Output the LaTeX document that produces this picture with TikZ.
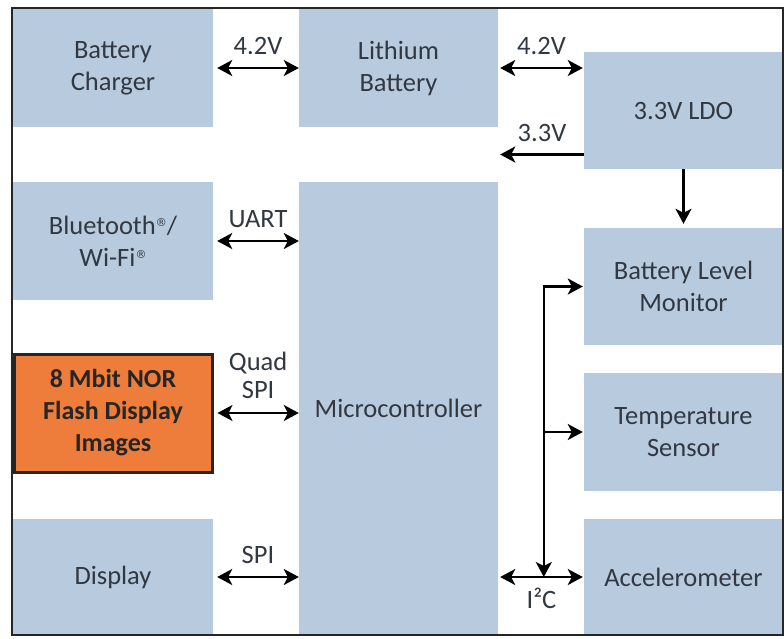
\documentclass[tikz,border=0pt]{standalone}
\usepackage{fontspec}
\setmainfont{Carlito}
\newfontfamily\regfont{DejaVu Sans}
\usetikzlibrary{arrows.meta,calc}
\definecolor{boxblue}{RGB}{184,203,222}
\definecolor{txtgray}{RGB}{50,56,66}
\definecolor{norange}{RGB}{238,124,58}
\newcommand{\regmark}{{\regfont\fontsize{11}{11}\selectfont\raisebox{8pt}{®}}}
\begin{document}
\begin{tikzpicture}[x=1pt,y=-1pt,
  blk/.style={fill=boxblue,draw=none,inner sep=0pt,minimum width=200pt,minimum height=118pt,
    align=center,text=txtgray,font=\fontsize{26.5}{32}\selectfont},
  lbl/.style={inner sep=0pt,text=txtgray,font=\fontsize{26.5}{28}\selectfont,align=center},
  tip/.tip={Stealth[length=15pt,width=16pt,inset=4pt]},
  conn/.style={line width=2.2pt,black,-tip},
  dconn/.style={line width=2.2pt,black,tip-tip}]
\useasboundingbox (0,0) rectangle (784,638);
\fill[white] (0,0) rectangle (784,638);
% blocks
\node[blk] (chg) at (113,68) {Battery\\Charger};
\node[blk,minimum width=199pt] (bat) at (398.5,68) {Lithium\\Battery};
\node[blk,minimum width=199pt,minimum height=117pt] (ldo) at (683.5,110.5) {3.3V LDO};
\node[blk] (bt) at (113,241) {Bluetooth\regmark/\\Wi-Fi\regmark};
\node[blk,minimum width=199pt,minimum height=453pt] (mcu) at (398.5,408.5) {Microcontroller};
\node[blk,minimum width=199pt,minimum height=117pt] (blm) at (683.5,286.5) {Battery Level\\Monitor};
\node[blk,minimum width=199pt] (ts) at (683.5,432) {Temperature\\Sensor};
\node[blk,minimum width=199pt,minimum height=116pt] (acc) at (683.5,577) {Accelerometer};
\node[blk,minimum width=198pt,minimum height=118pt,fill=norange,draw=black!85,line width=3pt,text=black!85,
  font=\bfseries\fontsize{26}{32}\selectfont] (nor) at (113,413) {8 Mbit NOR\\Flash Display\\Images};
\node[blk,minimum height=116pt] (disp) at (113,577) {Display};
% connectors
\draw[dconn] ([xshift=4pt]chg.east) -- (bat.west) node[lbl,midway,above=12pt] (l1) {4.2V};
\draw[dconn] ([xshift=2pt]bat.east) -- ([xshift=-1pt]bat.east -| ldo.west) node[lbl,midway,above=12pt] (l2) {4.2V};
\coordinate (ldoout) at ([yshift=-44pt]ldo.west);
\draw[conn] (ldoout) -- ([xshift=2pt]ldoout -| bat.east) node[lbl,midway,above=12pt] (l3) {3.3V};
\draw[conn] (ldo.south) -- ([yshift=4pt]blm.north);
\draw[dconn] ([xshift=4pt]bt.east) -- (bt.east -| mcu.west) node[lbl,midway,above=12pt] (l4) {UART};
\draw[dconn] ([xshift=4pt]nor.east) -- (nor.east -| mcu.west) node[lbl,midway,above=13pt] (l5) {Quad\\SPI};
\draw[dconn] ([xshift=4pt]disp.east) -- (disp.east -| mcu.west) node[lbl,midway,above=12pt] (l6) {SPI};
% I2C bus
\coordinate (bustop) at ([xshift=-40pt]blm.west);
\draw[dconn] ([xshift=2pt]mcu.east |- acc.west) -- ([xshift=-1pt]acc.west) node[lbl,midway,below=10pt] (l7) {I²C};
\draw[conn] (bustop) -- ([xshift=-1pt]blm.west);
\draw[conn] (bustop |- ts.west) -- ([xshift=-1pt]ts.west);
\draw[conn,shorten <=-1.1pt] (bustop) -- (bustop |- acc.west);
% frame
\draw[line width=1.3pt,black!85] (12,8) rectangle (783,635);
\end{tikzpicture}
\end{document}
